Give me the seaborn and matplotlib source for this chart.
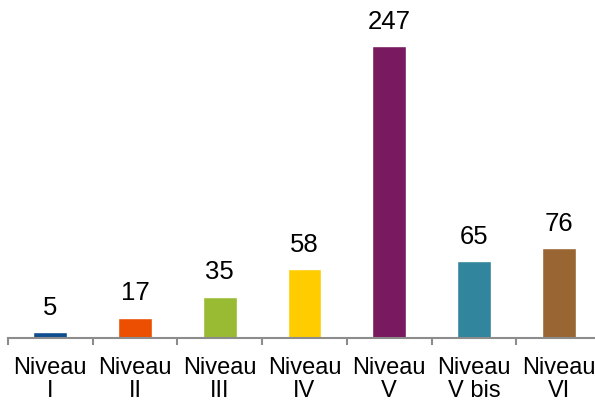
import matplotlib
matplotlib.use("Agg")
import matplotlib.pyplot as plt
import seaborn as sns
import numpy as np
import pandas as pd

# Data
niveaux = ["Niveau\nI", "Niveau\nII", "Niveau\nIII", "Niveau\nIV", "Niveau\nV", "Niveau\nV bis", "Niveau\nVI"]
effectifs = [5, 17, 35, 58, 247, 65, 76]
couleurs = ["#0E4D8E", "#EC4E02", "#99BB33", "#FFCC00", "#79195F", "#31859C", "#996633"]

df = pd.DataFrame({"niveau": niveaux, "effectif": effectifs})

sns.set_style("white")
plt.rcParams["font.family"] = ["Liberation Sans", "DejaVu Sans"]

fig = plt.figure(figsize=(5.95, 4.05), dpi=100)
ax = fig.add_axes([8 / 595, 67 / 405, 593 / 595, 331 / 405])

sns.barplot(data=df, x="niveau", y="effectif", hue="niveau", palette=couleurs,
            legend=False, width=0.4, saturation=1, ax=ax)

ax.set_ylim(0, 280)
ax.set_xlim(-0.5, len(niveaux) - 0.5)

# value labels
for i, v in enumerate(effectifs):
    ax.annotate(str(v), (i, v), xytext=(0, 9), textcoords="offset points",
                ha="center", va="bottom", fontsize=18.5, color="black")

# axes styling
for side in ["left", "right", "top"]:
    ax.spines[side].set_visible(False)
ax.spines["bottom"].set_color("#8c8c8c")
ax.spines["bottom"].set_linewidth(1.5)
ax.set_yticks([])
ax.set_xlabel("")
ax.set_ylabel("")

ax.set_xticks(np.arange(len(niveaux)))
ax.set_xticklabels(niveaux, fontsize=17, linespacing=1.05, color="black")
ax.tick_params(axis="x", which="major", length=0, pad=14)
ax.set_xticks(np.arange(len(niveaux) + 1) - 0.5, minor=True)
ax.tick_params(axis="x", which="minor", length=5, width=1.5, color="#8c8c8c", bottom=True)

fig.savefig("out.png", dpi=100)
